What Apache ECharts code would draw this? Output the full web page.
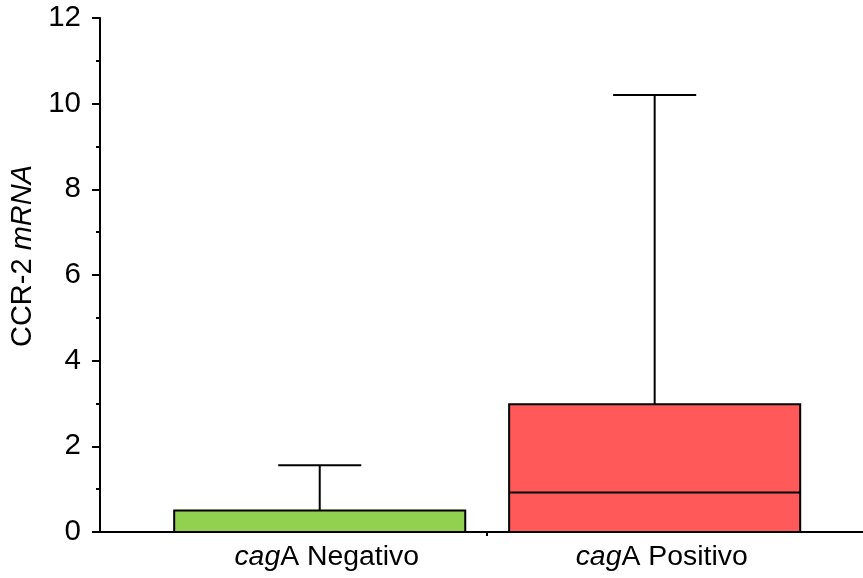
<!DOCTYPE html>
<html>
<head>
<meta charset="utf-8">
<style>
  html, body { margin: 0; padding: 0; background: #fff; }
  #chart { width: 863px; height: 578px; }
</style>
<script src="https://cdn.jsdelivr.net/npm/echarts@6/dist/echarts.min.js"></script>
</head>
<body>
<div id="chart"></div>
<script>
// Groups (positions 1 and 2 on the x scale)
const categories = ['Negativo', 'Positivo'];
const positions = [1, 2];
// Box statistics per group
const q1Values = [0, 0];
const medianValues = [0, 0.92];
const q3Values = [0.5, 2.98];
const maxValues = [1.56, 10.2];
const boxColors = ['#92D050', '#FF5959'];
const yTicks = [0, 2, 4, 6, 8, 10, 12];

const FONT = '"Liberation Sans", Arial, sans-serif';
const FS_TICK = 29.5;
const FS_TEXT = 28.4;

const seriesData = positions.map((p, i) => [p, q1Values[i], medianValues[i], q3Values[i], maxValues[i], i]);

const BOX_W = 0.869;
const CAP_W = 0.248;

function renderBox(params, api) {
  const x = api.value(0);
  const q1 = api.value(1), med = api.value(2), q3 = api.value(3), mx = api.value(4);
  const idx = api.value(5);
  const pQ1 = api.coord([x, q1]);
  const pQ3 = api.coord([x, q3]);
  const pMed = api.coord([x, med]);
  const pMax = api.coord([x, mx]);
  const halfBox = api.size([BOX_W, 0])[0] / 2;
  const halfCap = api.size([CAP_W, 0])[0] / 2;
  const cx = pQ1[0];
  const lineStyle = { stroke: '#000', lineWidth: 2, fill: null };
  return {
    type: 'group',
    children: [
      { type: 'line', shape: { x1: cx, y1: pQ3[1], x2: cx, y2: pMax[1] }, style: lineStyle },
      { type: 'line', shape: { x1: cx - halfCap, y1: pMax[1], x2: cx + halfCap, y2: pMax[1] }, style: lineStyle },
      { type: 'rect', shape: { x: cx - halfBox, y: pQ3[1], width: halfBox * 2, height: pQ1[1] - pQ3[1] },
        style: { fill: boxColors[idx], stroke: '#000', lineWidth: 2 } },
      { type: 'line', shape: { x1: cx - halfBox, y1: pMed[1], x2: cx + halfBox, y2: pMed[1] }, style: lineStyle }
    ]
  };
}

const chart = echarts.init(document.getElementById('chart'), null, { renderer: 'canvas' });
chart.setOption({
  animation: false,
  backgroundColor: '#fff',
  grid: { left: 100, right: 0, top: 18, bottom: 46, outerBoundsMode: 'none', containLabel: false },
  xAxis: {
    type: 'value',
    min: 0.344,
    max: 2.622,
    splitLine: { show: false },
    axisLine: { show: true, lineStyle: { color: '#000', width: 2 } },
    axisTick: { show: true, customValues: [1.5], length: 4, lineStyle: { color: '#000', width: 2 } },
    axisLabel: {
      customValues: positions,
      margin: 11,
      padding: [0, 0, 0, 14],
      formatter: function (v) {
        const i = positions.indexOf(v);
        return '{i|cag}{n|A ' + categories[i] + '}';
      },
      rich: {
        i: { fontFamily: FONT, fontSize: FS_TEXT, fontStyle: 'italic', color: '#000' },
        n: { fontFamily: FONT, fontSize: FS_TEXT, color: '#000' }
      }
    }
  },
  yAxis: {
    type: 'value',
    min: 0,
    max: 12,
    interval: 2,
    splitLine: { show: false },
    axisLine: { show: true, lineStyle: { color: '#000', width: 2 } },
    axisTick: { show: true, length: 8, lineStyle: { color: '#000', width: 2 } },
    minorTick: { show: true, splitNumber: 2, length: 4, lineStyle: { color: '#000', width: 2 } },
    axisLabel: {
      margin: 19,
      padding: [8, 0, 0, 0],
      fontFamily: FONT,
      fontSize: FS_TICK,
      color: '#000',
      customValues: yTicks
    },
    name: '{n|CCR-2 }{i|mRNA}',
    nameLocation: 'middle',
    nameGap: 57,
    nameRotate: 90,
    nameTextStyle: {
      padding: [0, 0, 0, 38],
      rich: {
        n: { fontFamily: FONT, fontSize: 29, color: '#000' },
        i: { fontFamily: FONT, fontSize: 29, fontStyle: 'italic', color: '#000' }
      }
    }
  },
  series: [{
    type: 'custom',
    renderItem: renderBox,
    encode: { x: 0, y: [1, 2, 3, 4] },
    data: seriesData,
    clip: false
  }]
});
</script>
</body>
</html>
